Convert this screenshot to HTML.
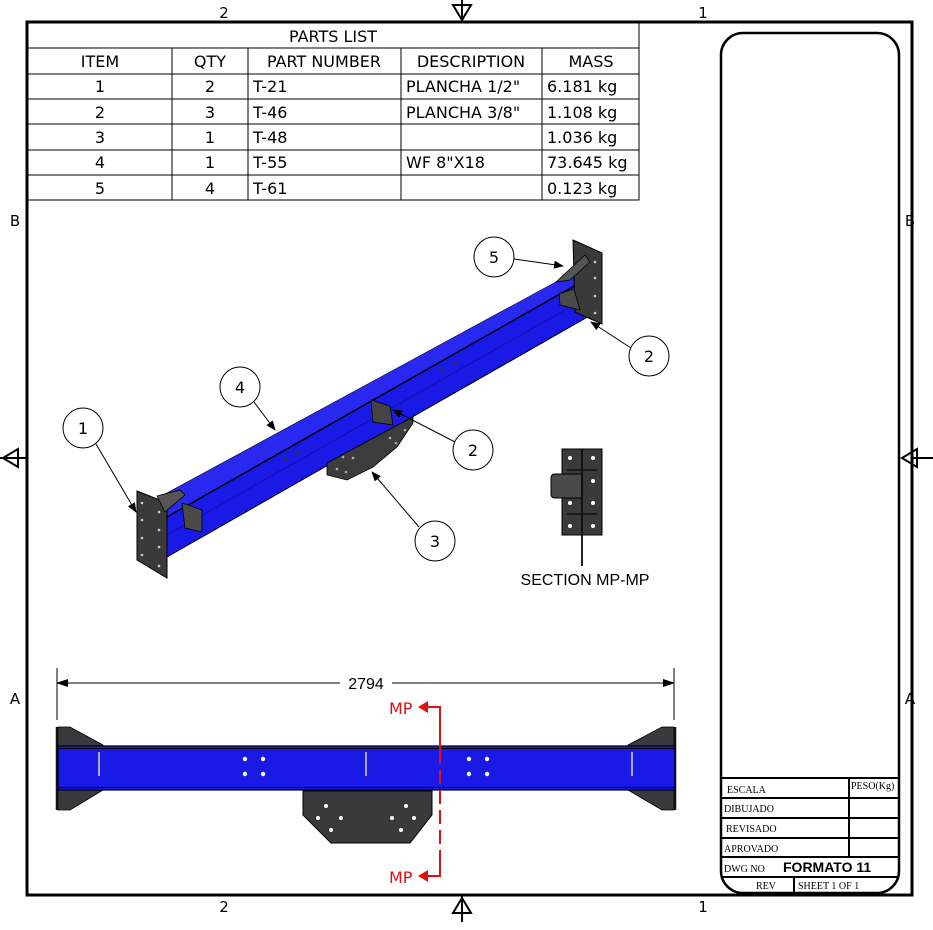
<!DOCTYPE html>
<html><head><meta charset="utf-8"><style>
body{margin:0;background:#fff}
svg{display:block}
text{font-family:"DejaVu Sans","Liberation Sans",sans-serif}
</style></head><body>
<svg width="933" height="930" viewBox="0 0 933 930" xmlns="http://www.w3.org/2000/svg">
<defs>
<marker id="ar" markerWidth="10" markerHeight="8" refX="9" refY="4" orient="auto" markerUnits="userSpaceOnUse"><path d="M0,0 L10,4 L0,8 Z" fill="#000"/></marker>
<marker id="ar2" markerWidth="12" markerHeight="8" refX="11" refY="4" orient="auto-start-reverse" markerUnits="userSpaceOnUse"><path d="M0,0 L12,4 L0,8 Z" fill="#000"/></marker>
</defs>
<!-- border -->
<rect x="27" y="22" width="885" height="873" fill="none" stroke="#000" stroke-width="3"/>
<g font-size="15" text-anchor="middle" fill="#000">
<text x="224" y="18">2</text><text x="703" y="18">1</text>
<text x="224" y="912">2</text><text x="703" y="912">1</text>
<text x="15" y="226">B</text><text x="910" y="226">B</text>
<text x="15" y="704">A</text><text x="910" y="704">A</text>
</g>
<!-- center markers -->
<g stroke="#000" stroke-width="2" fill="none">
<path d="M462,0 V22 M453,5 L462,20 L471,5 Z"/>
<path d="M462,895 V922 M453,913 L462,898 L471,913 Z"/>
<path d="M0,458 H27 M18,449 L3,458 L18,467 Z"/>
<path d="M912,458 H933 M917,449 L902,458 L917,467 Z"/>
</g>
<!-- parts list -->
<g stroke="#000" stroke-width="1" fill="none">
<rect x="27" y="22" width="612" height="178"/>
<path d="M27,48 H639 M27,74 H639 M27,99 H639 M27,124 H639 M27,150 H639 M27,175 H639"/>
<path d="M172,48 V200 M248,48 V200 M401,48 V200 M542,48 V200"/>
</g>
<g font-size="16" fill="#000">
<text x="333" y="42" text-anchor="middle">PARTS LIST</text>
<text x="100" y="67" text-anchor="middle">ITEM</text><text x="210" y="67" text-anchor="middle">QTY</text>
<text x="324" y="67" text-anchor="middle">PART NUMBER</text><text x="471" y="67" text-anchor="middle">DESCRIPTION</text>
<text x="591" y="67" text-anchor="middle">MASS</text>
<g text-anchor="middle"><text x="100" y="92">1</text><text x="100" y="118">2</text><text x="100" y="143">3</text><text x="100" y="168">4</text><text x="100" y="194">5</text>
<text x="210" y="92">2</text><text x="210" y="118">3</text><text x="210" y="143">1</text><text x="210" y="168">1</text><text x="210" y="194">4</text></g>
<text x="253" y="92">T-21</text><text x="253" y="118">T-46</text><text x="253" y="143">T-48</text><text x="253" y="168">T-55</text><text x="253" y="194">T-61</text>
<text x="406" y="92">PLANCHA 1/2"</text><text x="406" y="118">PLANCHA 3/8"</text><text x="406" y="168">WF 8"X18</text>
<text x="547" y="92">6.181 kg</text><text x="547" y="118">1.108 kg</text><text x="547" y="143">1.036 kg</text><text x="547" y="168">73.645 kg</text><text x="547" y="194">0.123 kg</text>
</g>
<!-- title block -->
<rect x="721" y="33" width="178" height="860" rx="22" fill="none" stroke="#000" stroke-width="2.5"/>
<g stroke="#000" stroke-width="2" fill="none">
<path d="M721,778 H899 M721,798 H899 M721,818 H899 M721,838 H899 M721,857 H899 M721,877 H899"/>
<path d="M849,778 V857 M794,877 V893"/>
</g>
<g font-family="Liberation Serif,serif" font-size="10" fill="#000" style="font-family:'Liberation Serif',serif">
<text x="727" y="793" style="font-family:'Liberation Serif',serif">ESCALA</text>
<text x="851" y="789" style="font-family:'Liberation Serif',serif">PESO(Kg)</text>
<text x="724" y="812" style="font-family:'Liberation Serif',serif">DIBUJADO</text>
<text x="726" y="832" style="font-family:'Liberation Serif',serif">REVISADO</text>
<text x="724" y="852" style="font-family:'Liberation Serif',serif">APROVADO</text>
<text x="724" y="872" style="font-family:'Liberation Serif',serif">DWG NO</text>
<text x="756" y="889" style="font-family:'Liberation Serif',serif">REV</text>
<text x="798" y="889" style="font-family:'Liberation Serif',serif">SHEET 1  OF 1</text>
</g>
<text x="783" y="872" font-size="14" font-weight="bold" style="font-family:'Liberation Sans',sans-serif">FORMATO 11</text>

<!-- isometric beam -->
<polygon points="160,497 593,262 598,311 167,557" fill="#1a1ae6" stroke="#000" stroke-width="1"/>
<polygon points="160,497 593,262 597,273 167,517" fill="#2828f0"/>
<line x1="167" y1="517" x2="597" y2="273" stroke="#000" stroke-width="1.5"/>
<line x1="167" y1="535" x2="597" y2="292" stroke="#1010b0" stroke-width="1"/>
<!-- holes on beam -->
<g fill="#333"><circle cx="286" cy="459" r="1.8"/><circle cx="298" cy="453" r="1.8"/><circle cx="442" cy="370" r="1.8"/><circle cx="455" cy="363" r="1.8"/></g>
<!-- end plates -->
<polygon points="137,491 167,503 167,578 137,560" fill="#3a3a3a" stroke="#000"/>
<polygon points="157,496 180,490 185,495 165,512" fill="#555" stroke="#000" stroke-width="0.8"/>
<polygon points="182,503 202,510 202,532 185,528" fill="#4a4a4a" stroke="#000" stroke-width="0.8"/>
<polygon points="573,240 602,253 602,324 575,312" fill="#3a3a3a" stroke="#000"/>
<polygon points="556,282 585,255 590,262 570,280" fill="#555" stroke="#000" stroke-width="0.8"/>
<polygon points="559,294 574,289 580,310 560,305" fill="#4a4a4a" stroke="#000" stroke-width="0.8"/>
<g fill="#ccc"><circle cx="142" cy="503" r="1.3"/><circle cx="142" cy="520" r="1.3"/><circle cx="142" cy="538" r="1.3"/><circle cx="142" cy="555" r="1.3"/>
<circle cx="159" cy="512" r="1.3"/><circle cx="159" cy="530" r="1.3"/><circle cx="159" cy="547" r="1.3"/><circle cx="159" cy="566" r="1.3"/>
<circle cx="595" cy="262" r="1.3"/><circle cx="595" cy="278" r="1.3"/><circle cx="595" cy="296" r="1.3"/><circle cx="595" cy="313" r="1.3"/></g>
<!-- mid stiffener & plate 3 -->
<polygon points="371,400 390,406 393,425 373,422" fill="#444" stroke="#000" stroke-width="0.8"/>
<polygon points="327,463 327,475 347,480 373,467 397,447 413,423 413,417 392,428" fill="#3c3c3c" stroke="#000" stroke-width="0.8"/>
<g fill="#aaa"><circle cx="337" cy="469" r="1.3"/><circle cx="346" cy="472" r="1.3"/><circle cx="343" cy="457" r="1.3"/><circle cx="353" cy="458" r="1.3"/><circle cx="390" cy="438" r="1.3"/><circle cx="396" cy="443" r="1.3"/><circle cx="405" cy="430" r="1.3"/></g>

<!-- balloons -->
<g fill="#fff" stroke="#000" stroke-width="1">
<circle cx="83" cy="428" r="20"/><circle cx="240" cy="387" r="20"/><circle cx="494" cy="257" r="20"/>
<circle cx="649" cy="356" r="20"/><circle cx="473" cy="450" r="20"/><circle cx="435" cy="541" r="20"/>
</g>
<g font-size="16" text-anchor="middle" style="font-family:'Liberation Sans',sans-serif"><text x="83" y="434">1</text><text x="240" y="393">4</text><text x="494" y="263">5</text><text x="649" y="362">2</text><text x="473" y="456">2</text><text x="435" y="547">3</text></g>
<g stroke="#000" stroke-width="1" marker-end="url(#ar)">
<line x1="96" y1="444" x2="136" y2="512"/>
<line x1="254" y1="402" x2="275" y2="430"/>
<line x1="514" y1="259" x2="563" y2="266"/>
<line x1="631" y1="348" x2="591" y2="322"/>
<line x1="455" y1="442" x2="393" y2="410"/>
<line x1="419" y1="527" x2="372" y2="472"/>
</g>

<!-- section MP-MP -->
<line x1="582" y1="449" x2="582" y2="566" stroke="#222" stroke-width="2"/>
<rect x="562" y="449" width="40" height="86" fill="#3a3a3a" stroke="#000"/>
<path d="M555,474 H582 V498 H555 Q551,498 551,494 V478 Q551,474 555,474 Z" fill="#4a4a4a" stroke="#000"/>
<line x1="582" y1="449" x2="582" y2="535" stroke="#111" stroke-width="2"/>
<path d="M567,470 H597 M567,514 H597" stroke="#111" stroke-width="1.5"/>
<g fill="#fff"><circle cx="570" cy="458" r="2"/><circle cx="593" cy="458" r="2"/><circle cx="593" cy="481" r="2"/><circle cx="570" cy="503" r="2"/><circle cx="593" cy="503" r="2"/><circle cx="570" cy="526" r="2"/><circle cx="593" cy="526" r="2"/></g>
<text x="585" y="585" font-size="16" text-anchor="middle" style="font-family:'Liberation Sans',sans-serif">SECTION MP-MP</text>

<!-- dimension -->
<g stroke="#000" stroke-width="1">
<line x1="57" y1="668" x2="57" y2="720"/><line x1="674" y1="668" x2="674" y2="720"/>
<line x1="57" y1="683" x2="340" y2="683" marker-start="url(#ar2)"/>
<line x1="392" y1="683" x2="674" y2="683" marker-end="url(#ar2)"/>
</g>
<text x="366" y="689" font-size="16" text-anchor="middle" style="font-family:'Liberation Sans',sans-serif">2794</text>

<!-- bottom view -->
<polygon points="58,727 70,727 103,745 103,790 70,810 58,810" fill="#3a3a3a" stroke="#000" stroke-width="0.8"/>
<polygon points="674,727 662,727 628,745 628,790 662,810 674,810" fill="#3a3a3a" stroke="#000" stroke-width="0.8"/>
<line x1="57" y1="727" x2="57" y2="810" stroke="#111" stroke-width="2.5"/>
<line x1="675" y1="727" x2="675" y2="810" stroke="#111" stroke-width="2.5"/>
<rect x="58" y="746" width="617" height="44" fill="#1a1ae6" stroke="#000" stroke-width="1.2"/>
<path d="M58,748.5 H675 M58,787.5 H675" stroke="#000" stroke-width="1"/>
<g stroke="#ccc" stroke-width="1.6"><line x1="99" y1="752" x2="99" y2="776"/><line x1="366" y1="752" x2="366" y2="776"/><line x1="632" y1="752" x2="632" y2="776"/></g>
<g fill="#fff"><circle cx="245" cy="759" r="2.2"/><circle cx="263" cy="759" r="2.2"/><circle cx="245" cy="774" r="2.2"/><circle cx="263" cy="774" r="2.2"/>
<circle cx="469" cy="759" r="2.2"/><circle cx="487" cy="759" r="2.2"/><circle cx="469" cy="774" r="2.2"/><circle cx="487" cy="774" r="2.2"/></g>
<polygon points="303,791 432,791 432,815 410,843 331,843 303,815" fill="#3a3a3a" stroke="#000"/>
<g fill="#fff"><circle cx="326" cy="806" r="2"/><circle cx="318" cy="818" r="2"/><circle cx="341" cy="818" r="2"/><circle cx="331" cy="830" r="2"/>
<circle cx="406" cy="806" r="2"/><circle cx="414" cy="818" r="2"/><circle cx="392" cy="818" r="2"/><circle cx="401" cy="830" r="2"/></g>
<!-- section line -->
<g stroke="#e01010" stroke-width="2" fill="none">
<path d="M426,707 H440 V750"/>
<path d="M440,750 V875" stroke-dasharray="14,6"/>
<path d="M440,855 V876 H426"/>
</g>
<g fill="#e01010"><path d="M418,707 L428,701 L428,713 Z"/><path d="M418,876 L428,870 L428,882 Z"/></g>
<g fill="#e01010" font-size="16" style="font-family:'Liberation Sans',sans-serif"><text x="389" y="714">MP</text><text x="389" y="883">MP</text></g>
</svg>
</body></html>
